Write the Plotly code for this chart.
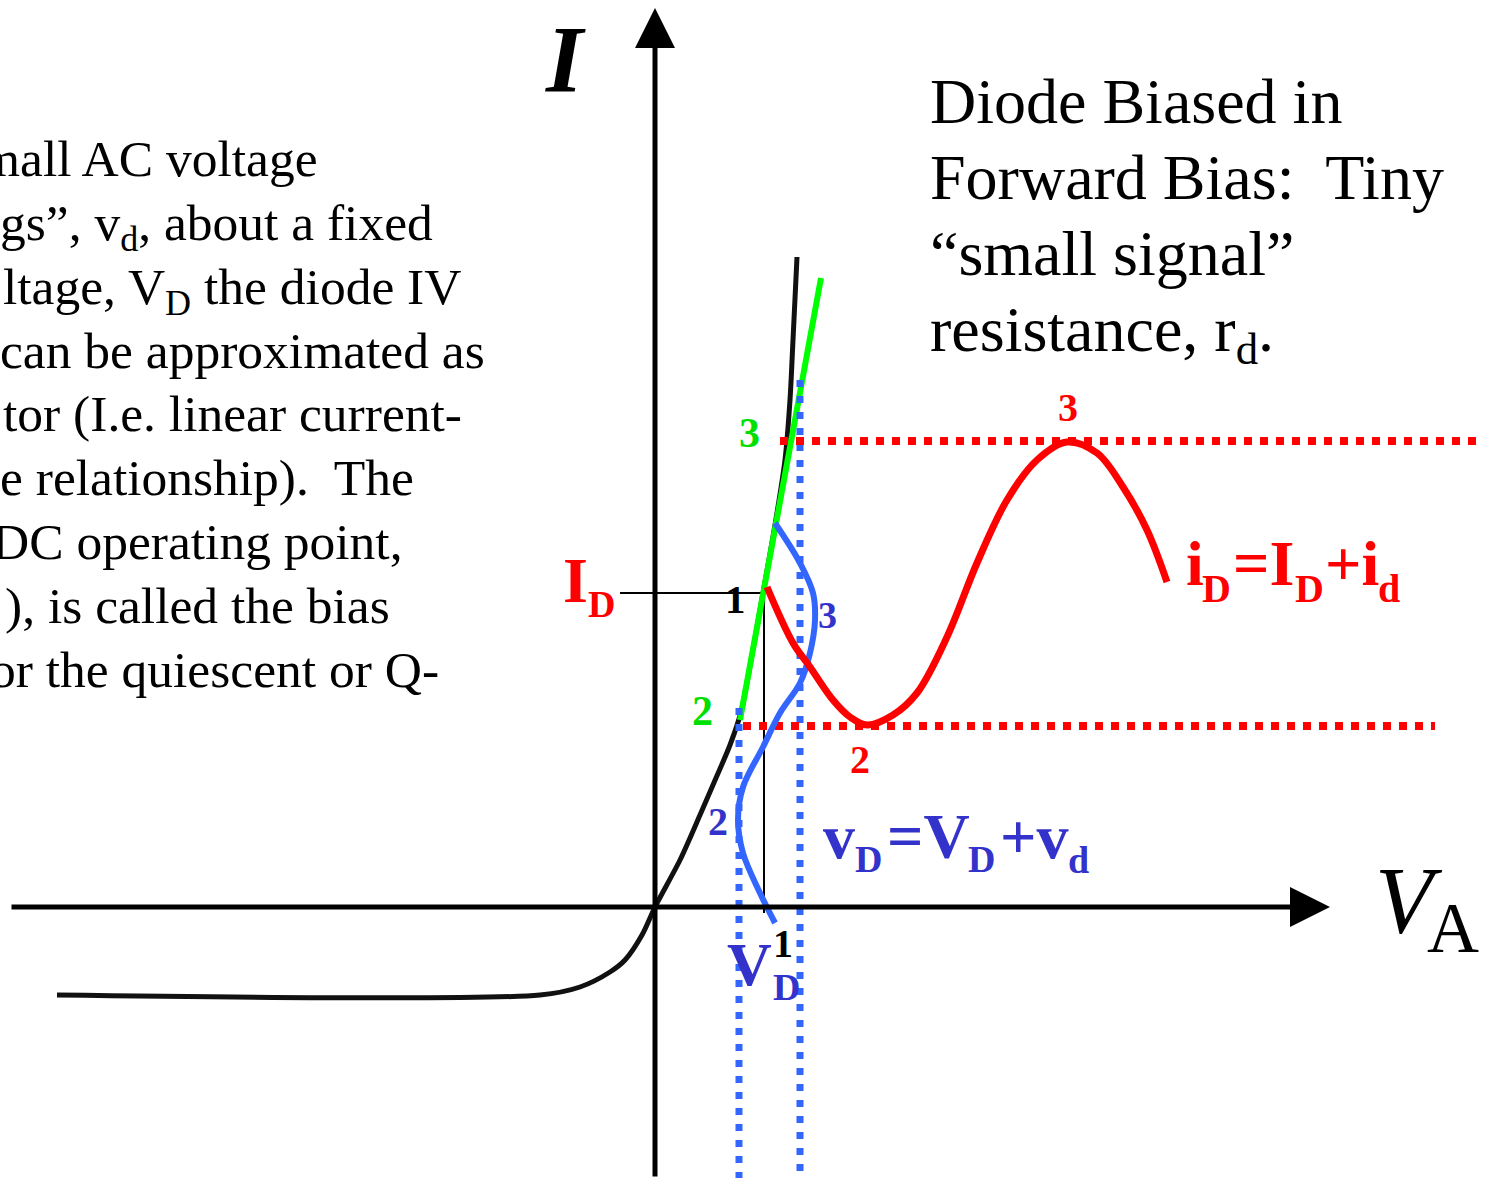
import plotly.graph_objects as go

W, H = 1485, 1178
SERIF = "Liberation Serif"

RED = "#ff0000"
GREEN_LINE = "#00ff00"
GREEN_TEXT = "#00e000"
BLUE_LINE = "#3366ff"
BLUE_TEXT = "#3333cc"

# Diode I-V characteristic (applied voltage, current), arbitrary units
iv_v = [-5.98, -1.15, -0.75, -0.45, -0.30, -0.13, 0.00, 0.25, 0.45, 0.61, 0.75,
        0.86, 0.97, 1.08, 1.20, 1.30, 1.35, 1.38, 1.42]
iv_i = [-0.88, -0.88, -0.80, -0.65, -0.53, -0.28, 0.00, 0.47, 0.92, 1.29, 1.62,
        1.95, 2.52, 3.14, 3.82, 4.47, 5.07, 5.67, 6.50]

# Quiescent (bias) point
V_D = 1.09
I_D = 3.14
q_line_v = [-0.35, V_D, V_D]
q_line_i = [I_D, I_D, -0.06]

# Small-signal tangent at the Q-point
tangent_v = [0.85, 1.66]
tangent_i = [1.87, 6.29]

# Current response i_D(t), time running to the right
id_wave_x = [1.12, 1.38, 1.55, 1.78, 1.95, 2.12, 2.38, 2.62, 2.92, 3.22, 3.52,
             3.82, 4.12, 4.42, 4.68, 4.92, 5.12]
id_wave_i = [3.20, 2.64, 2.40, 2.07, 1.90, 1.82, 1.92, 2.14, 2.70, 3.44, 4.07,
             4.47, 4.65, 4.54, 4.20, 3.77, 3.25]

# Voltage drive v_D(t), time running upward
vd_wave_v = [1.20, 1.45, 1.58, 1.60, 1.55, 1.45, 1.25, 1.08, 0.88, 0.83, 0.88,
             1.05, 1.20]
vd_wave_y = [3.84, 3.44, 3.14, 2.87, 2.54, 2.24, 1.94, 1.60, 1.20, 0.87, 0.54,
             0.14, -0.16]

# Extremes of the swing (points 2 and 3) and the extent of their guide lines
v_swing = [0.84, 1.45]
v_guide_top = [1.99, 5.27]
i_swing = [1.81, 4.66]
i_guide_start = [0.88, 1.25]
i_guide_end = [7.80, 8.22]
guide_bottom = -2.71

# Axis extents
x_axis_tail, x_axis_tip = -6.45, 6.75
y_axis_tail, y_axis_tip = -2.71, 8.99

fig = go.Figure()

fig.add_trace(go.Scatter(x=iv_v, y=iv_i, mode="lines",
                         line=dict(color="#111111", width=5, shape="spline", smoothing=0.8)))
fig.add_trace(go.Scatter(x=q_line_v, y=q_line_i, mode="lines",
                         line=dict(color="black", width=2)))
fig.add_trace(go.Scatter(x=tangent_v, y=tangent_i, mode="lines",
                         line=dict(color=GREEN_LINE, width=6)))

for v, top in zip(v_swing, v_guide_top):
    fig.add_trace(go.Scatter(x=[v, v], y=[top, guide_bottom], mode="lines",
                             line=dict(color=BLUE_LINE, width=7, dash="7px,9px")))
for i, x0, x1 in zip(i_swing, i_guide_start, i_guide_end):
    fig.add_trace(go.Scatter(x=[x0, x1], y=[i, i], mode="lines",
                             line=dict(color=RED, width=8, dash="8px,8px")))

fig.add_trace(go.Scatter(x=vd_wave_v, y=vd_wave_y, mode="lines",
                         line=dict(color=BLUE_LINE, width=6, shape="spline")))
fig.add_trace(go.Scatter(x=id_wave_x, y=id_wave_i, mode="lines",
                         line=dict(color=RED, width=7, shape="spline")))

annotations = []

# Axes drawn as arrows through the origin
annotations.append(dict(x=x_axis_tip, y=0, ax=x_axis_tail, ay=0, xref="x", yref="y",
                        axref="x", ayref="y", showarrow=True, arrowhead=2,
                        arrowsize=1.6, arrowwidth=5, arrowcolor="black", text="",
                        standoff=0))
annotations.append(dict(x=0, y=y_axis_tip, ax=0, ay=y_axis_tail, xref="x", yref="y",
                        axref="x", ayref="y", showarrow=True, arrowhead=2,
                        arrowsize=1.6, arrowwidth=5, arrowcolor="black", text="",
                        standoff=0))


def label(text, x_px, baseline_px, size, color="black", bold=False, italic=False,
          anchor="left"):
    top = baseline_px - 0.891 * size
    return dict(xref="paper", yref="paper", x=x_px / W, y=1 - top / H,
                xanchor=anchor, yanchor="top", text=text, showarrow=False,
                borderpad=0, borderwidth=0,
                font=dict(family=SERIF, size=size, color=color,
                          weight="bold" if bold else "normal",
                          style="italic" if italic else "normal"))


# Axis titles
annotations.append(label("I", 545, 92, 95, bold=True, italic=True))
annotations.append(label("V", 1375, 933, 95, italic=True))
annotations.append(label("A", 1427, 952, 72))

# Explanatory paragraph running in from the left edge
para = [
    ("mall AC voltage", -20),
    ("gs”, v<sub>d</sub>, about a fixed", 0),
    ("ltage, V<sub>D</sub> the diode IV", 3),
    ("can be approximated as", 0),
    ("tor (I.e. linear current-", 3),
    ("e relationship).\u00a0 The", 0),
    ("DC operating point,", -8),
    ("), is called the bias", 5),
    ("or the quiescent or Q-", -10),
]
for k, (text, left) in enumerate(para):
    annotations.append(label(text, left, 176 + 63.8 * k, 51.5))

# Title block on the right
title = [
    ("Diode Biased in", 123),
    ("Forward Bias:\u00a0 Tiny", 199),
    ("“small signal”", 275),
    ("resistance, r<sub>d</sub>.", 351),
]
for text, base in title:
    annotations.append(label(text, 930, base, 64))

# Q-point labels
annotations.append(label("I", 563, 602, 64, RED, bold=True))
annotations.append(label("D", 588, 617, 38, RED, bold=True))
annotations.append(label("1", 725, 613, 41, bold=True))
annotations.append(label("1", 773, 957, 40, bold=True))
annotations.append(label("V", 727, 985, 62, BLUE_TEXT, bold=True))
annotations.append(label("D", 773, 1000, 38, BLUE_TEXT, bold=True))

# Swing extremes
annotations.append(label("3", 739, 447, 42, GREEN_TEXT, bold=True))
annotations.append(label("2", 692, 725, 42, GREEN_TEXT, bold=True))
annotations.append(label("3", 818, 628, 38, BLUE_TEXT, bold=True))
annotations.append(label("2", 708, 835, 40, BLUE_TEXT, bold=True))
annotations.append(label("2", 850, 773, 40, RED, bold=True))
annotations.append(label("3", 1058, 421, 40, RED, bold=True))

# v_D = V_D + v_d
for text, x, base, size in [("v", 823, 858, 64), ("D", 855, 872, 38),
                            ("=V", 887, 858, 64), ("D", 968, 872, 38),
                            ("+v", 1000, 858, 64), ("d", 1068, 873, 38)]:
    annotations.append(label(text, x, base, size, BLUE_TEXT, bold=True))

# i_D = I_D + i_d
for text, x, base, size in [("i", 1186, 585, 64), ("D", 1202, 602, 40),
                            ("=I", 1233, 585, 64), ("D", 1295, 602, 40),
                            ("+i", 1325, 585, 64), ("d", 1378, 602, 40)]:
    annotations.append(label(text, x, base, size, RED, bold=True))

fig.update_layout(
    width=W, height=H,
    margin=dict(l=0, r=0, t=0, b=0),
    paper_bgcolor="white", plot_bgcolor="white",
    showlegend=False,
    xaxis=dict(range=[-6.55, 8.30], visible=False, fixedrange=True),
    yaxis=dict(range=[-2.71, 9.07], visible=False, fixedrange=True),
    annotations=annotations,
)

fig.write_html("out.html")
